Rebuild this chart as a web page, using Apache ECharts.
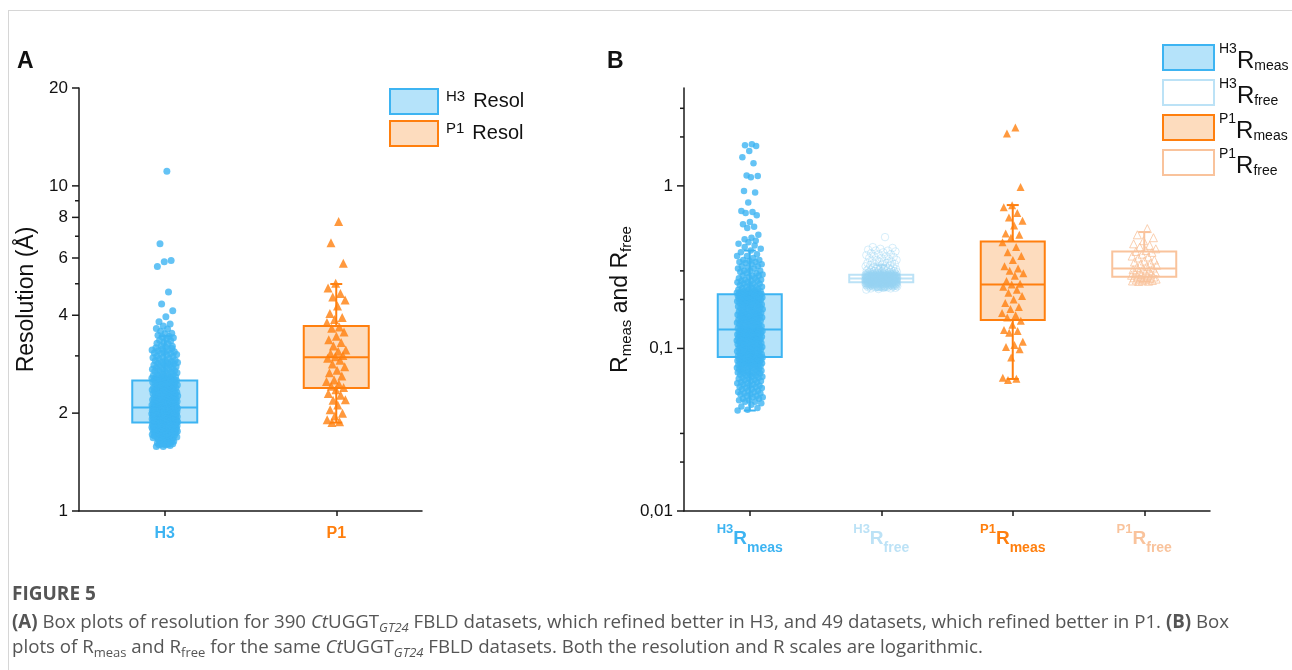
<!DOCTYPE html>
<html>
<head>
<meta charset="utf-8">
<title>Figure 5</title>
<script src="https://cdn.jsdelivr.net/npm/echarts@6/dist/echarts.min.js"></script>
<style>
  html, body { margin: 0; padding: 0; background: #fff; }
  #main { width: 1292px; height: 670px; }
</style>
</head>
<body>
<div id="main"></div>
<script>
// ---- categories ----
const catsA = ['H3', 'P1'];
const catsB = ['H3Rmeas', 'H3Rfree', 'P1Rmeas', 'P1Rfree'];
const supB = ['H3', 'H3', 'P1', 'P1'];
const subB = ['meas', 'free', 'meas', 'free'];
const legendA = ['H3 Resol', 'P1 Resol'];
const legendSupA = ['H3', 'P1'];

// ---- y ticks ----
const ticksA = [1, 2, 4, 6, 8, 10, 20];
const tickLabelsA = ['1', '2', '4', '6', '8', '10', '20'];
const minorA = [3, 5, 7, 9];
const ticksB = [0.01, 0.1, 1];
const tickLabelsB = ['0,01', '0,1', '1'];
const minorB = [0.02, 0.03, 0.2, 0.3, 2, 3];

// ---- box stats: [min, Q1, median, Q3, max] ----
const boxResH3 = [1.58, 1.87, 2.08, 2.52, 3.45];
const boxResP1 = [1.87, 2.39, 2.97, 3.71, 4.99];
const boxRmeasH3 = [0.0415, 0.0886, 0.1306, 0.2156, 0.40];
const boxRfreeH3 = [0.228, 0.2557, 0.269, 0.284, 0.325];
const boxRmeasP1 = [0.0649, 0.1498, 0.247, 0.455, 0.762];
const boxRfreeP1 = [0.258, 0.276, 0.310, 0.395, 0.520];

// ---- points (resolution, Å) ----
const resolH3 = [
  11.1, 6.64, 5.90, 5.84, 5.65, 4.72, 4.33, 4.13, 3.96, 3.82,
  3.76, 3.71, 3.64, 3.63, 3.57, 3.52, 3.51, 3.47, 3.44, 3.43, 3.41,
  3.38, 3.35, 3.34, 3.30, 3.28, 3.27, 3.22, 3.21, 3.19, 3.18, 3.16, 3.15, 3.13, 3.12, 3.11,
  3.09, 3.08, 3.06, 3.05, 3.05, 3.03, 3.02, 2.99, 2.98, 2.97, 2.96, 2.94, 2.93, 2.91, 2.90,
  2.90, 2.88, 2.87, 2.86, 2.85, 2.84, 2.83, 2.82, 2.81, 2.81,
  2.79, 2.78, 2.78, 2.76, 2.75, 2.74, 2.73, 2.73, 2.71, 2.70, 2.69, 2.69, 2.67, 2.66, 2.66,
  2.65, 2.63, 2.63, 2.62, 2.61, 2.60, 2.60, 2.59, 2.58, 2.57, 2.57, 2.56, 2.56, 2.55, 2.55,
  2.54, 2.54, 2.53, 2.53, 2.52, 2.52, 2.52,
  2.51, 2.50, 2.50, 2.49, 2.48, 2.48, 2.47, 2.46, 2.46, 2.45, 2.44, 2.44, 2.43, 2.42, 2.42,
  2.41, 2.40, 2.40, 2.39, 2.39, 2.38, 2.37, 2.37, 2.36, 2.36, 2.35, 2.34, 2.34, 2.34, 2.33,
  2.33, 2.32, 2.32, 2.31, 2.31, 2.31, 2.30, 2.30, 2.29, 2.29, 2.29, 2.28,
  2.27, 2.27, 2.26, 2.26, 2.25, 2.25, 2.24, 2.24, 2.23, 2.23, 2.22, 2.22, 2.21, 2.21, 2.21,
  2.20, 2.20, 2.19, 2.19, 2.19, 2.18, 2.18, 2.17, 2.17, 2.17, 2.16, 2.16, 2.15, 2.15, 2.15,
  2.14, 2.14, 2.14, 2.13, 2.13, 2.13, 2.12, 2.12, 2.12, 2.11, 2.11, 2.11, 2.10, 2.10, 2.10,
  2.10, 2.09, 2.09, 2.09, 2.09, 2.08, 2.08, 2.08, 2.08, 2.08,
  2.07, 2.07, 2.07, 2.07, 2.06, 2.06, 2.06, 2.06, 2.05, 2.05, 2.05, 2.05, 2.05, 2.04, 2.04,
  2.04, 2.04, 2.03, 2.03, 2.03, 2.03, 2.03, 2.02, 2.02, 2.02, 2.02, 2.01, 2.01, 2.01, 2.01,
  2.01, 2.00, 2.00, 2.00, 2.00, 2.00, 2.00, 1.99, 1.99, 1.99, 1.99, 1.98, 1.98, 1.98, 1.98,
  1.98, 1.97, 1.97, 1.97, 1.97, 1.96, 1.96, 1.96, 1.96, 1.96, 1.95, 1.95, 1.95, 1.95, 1.94,
  1.94, 1.94, 1.94, 1.94, 1.93, 1.93, 1.93, 1.93, 1.92, 1.92, 1.92, 1.92, 1.92, 1.91, 1.91,
  1.91, 1.91, 1.90, 1.90, 1.90, 1.90, 1.90, 1.90, 1.89, 1.89, 1.89, 1.89, 1.89, 1.88, 1.88,
  1.88, 1.88, 1.88, 1.88, 1.87, 1.87, 1.87, 1.87,
  1.86, 1.86, 1.86, 1.86, 1.86, 1.85, 1.85, 1.85, 1.85, 1.85, 1.84, 1.84, 1.84, 1.84, 1.84,
  1.83, 1.83, 1.83, 1.83, 1.83, 1.82, 1.82, 1.82, 1.82, 1.82, 1.81, 1.81, 1.81, 1.81,
  1.80, 1.80, 1.80, 1.80, 1.80, 1.79, 1.79, 1.79, 1.79, 1.78, 1.78, 1.78, 1.78,
  1.77, 1.77, 1.77, 1.77, 1.76, 1.76, 1.76, 1.76, 1.75, 1.75, 1.75, 1.75, 1.74, 1.74, 1.74, 1.74,
  1.73, 1.73, 1.73, 1.72, 1.72, 1.72, 1.71, 1.71, 1.71, 1.70, 1.70, 1.70, 1.69, 1.69, 1.69,
  1.68, 1.68, 1.68, 1.67, 1.67, 1.66, 1.66, 1.66, 1.65, 1.65, 1.64, 1.64, 1.64, 1.63, 1.63,
  1.62, 1.62, 1.61, 1.61, 1.60, 1.60, 1.59, 1.58, 1.58
];
const resolP1 = [
  7.77, 6.69, 5.78, 5.02, 4.85, 4.67, 4.55, 4.46, 4.27, 4.05, 3.94, 3.88, 3.80,
  3.68, 3.65, 3.55, 3.45, 3.36, 3.30, 3.22, 3.13, 3.10, 3.05, 3.01, 2.98,
  2.95, 2.91, 2.83, 2.78, 2.71, 2.66, 2.60, 2.53, 2.50, 2.46, 2.42, 2.40,
  2.36, 2.30, 2.27, 2.19, 2.20, 2.12, 2.05, 2.00, 1.96, 1.91, 1.88, 1.87
];

// ---- points (R values) ----
const rmeasH3 = [
  1.80, 1.78, 1.76, 1.64, 1.50, 1.38, 1.16, 1.15, 1.13, 0.93, 0.91, 0.79, 0.70, 0.69, 0.68,
  0.66, 0.60, 0.58, 0.56, 0.55, 0.50, 0.48, 0.47, 0.46, 0.45, 0.44, 0.43, 0.42, 0.41,
  0.40, 0.39, 0.38, 0.37, 0.37, 0.36, 0.35, 0.35, 0.345, 0.34, 0.34, 0.335, 0.33, 0.33, 0.32,
  0.32, 0.315, 0.31, 0.31, 0.30, 0.30, 0.30, 0.295, 0.29, 0.29, 0.285, 0.28, 0.28, 0.28, 0.275,
  0.27, 0.27, 0.265, 0.265, 0.26, 0.26, 0.26, 0.255, 0.255, 0.25, 0.25, 0.25, 0.245, 0.245,
  0.24, 0.24, 0.24, 0.235, 0.235, 0.232, 0.23, 0.23, 0.228, 0.226, 0.225, 0.225, 0.223, 0.222,
  0.221, 0.22, 0.22, 0.219, 0.218, 0.218, 0.217, 0.217, 0.216, 0.216,
  0.215, 0.214, 0.213, 0.213, 0.212, 0.211, 0.21, 0.21, 0.209, 0.208, 0.207, 0.206, 0.206,
  0.205, 0.204, 0.203, 0.202, 0.202, 0.2, 0.2, 0.199, 0.198, 0.197, 0.196, 0.195, 0.195,
  0.194, 0.192, 0.191, 0.19, 0.19, 0.189, 0.188, 0.186, 0.185, 0.185, 0.184, 0.182, 0.181,
  0.18, 0.18, 0.179, 0.178, 0.176, 0.175, 0.175, 0.174, 0.172, 0.171, 0.17, 0.17, 0.169,
  0.168, 0.166, 0.165, 0.165, 0.164, 0.163, 0.162, 0.161, 0.16, 0.16, 0.159, 0.158, 0.157,
  0.156, 0.155, 0.155, 0.154, 0.153, 0.152, 0.151, 0.15, 0.15, 0.149, 0.148, 0.147, 0.146,
  0.145, 0.145, 0.144, 0.143, 0.142, 0.141, 0.14, 0.14, 0.139, 0.138, 0.137, 0.136, 0.135,
  0.135, 0.134, 0.133, 0.132, 0.132, 0.131,
  0.13, 0.13, 0.129, 0.129, 0.128, 0.128, 0.127, 0.127, 0.126, 0.126, 0.125, 0.125, 0.124,
  0.124, 0.123, 0.123, 0.122, 0.122, 0.121, 0.121, 0.12, 0.12, 0.12, 0.119, 0.119, 0.118,
  0.118, 0.117, 0.117, 0.116, 0.116, 0.115, 0.115, 0.114, 0.114, 0.113, 0.113, 0.112, 0.112,
  0.111, 0.111, 0.11, 0.11, 0.11, 0.109, 0.109, 0.108, 0.108, 0.107, 0.107, 0.106, 0.106,
  0.105, 0.105, 0.104, 0.104, 0.103, 0.103, 0.102, 0.102, 0.101, 0.101, 0.1, 0.1, 0.1,
  0.099, 0.099, 0.098, 0.098, 0.097, 0.097, 0.096, 0.096, 0.095, 0.095, 0.094, 0.094, 0.093,
  0.093, 0.093, 0.092, 0.092, 0.091, 0.091, 0.091, 0.09, 0.09, 0.09, 0.089, 0.089, 0.089,
  0.089, 0.088, 0.088, 0.088, 0.087, 0.087, 0.087,
  0.086, 0.086, 0.086, 0.085, 0.085, 0.085, 0.084, 0.084, 0.084, 0.083, 0.083, 0.083, 0.082,
  0.082, 0.082, 0.081, 0.081, 0.081, 0.08, 0.08, 0.08, 0.079, 0.079, 0.079, 0.078, 0.078,
  0.077, 0.077, 0.077, 0.076, 0.076, 0.075, 0.075, 0.075, 0.074, 0.074, 0.073, 0.073, 0.072,
  0.072, 0.072, 0.071, 0.071, 0.07, 0.07, 0.07, 0.069, 0.069, 0.068, 0.068, 0.067, 0.067,
  0.066, 0.066, 0.065, 0.065, 0.064, 0.064, 0.063, 0.063, 0.062, 0.062, 0.061, 0.061, 0.06,
  0.06, 0.059, 0.059, 0.058, 0.058, 0.057, 0.057, 0.056, 0.056, 0.055, 0.055, 0.054, 0.054,
  0.053, 0.053, 0.052, 0.052, 0.051, 0.051, 0.05, 0.05, 0.049, 0.049, 0.048, 0.048, 0.047,
  0.047, 0.046, 0.045, 0.044, 0.043, 0.042, 0.0415
];
const rfreeH3 = [
  0.484, 0.42, 0.415, 0.41, 0.405, 0.40, 0.40, 0.395, 0.39, 0.385, 0.38, 0.38, 0.375, 0.37,
  0.37, 0.365, 0.36, 0.36, 0.355, 0.35, 0.35, 0.345, 0.345, 0.34, 0.34, 0.335, 0.335, 0.33,
  0.33, 0.33, 0.325, 0.325, 0.32, 0.32, 0.32, 0.316, 0.315, 0.313, 0.31, 0.31, 0.31, 0.308,
  0.306, 0.305, 0.304, 0.302, 0.301, 0.30, 0.30, 0.299, 0.298, 0.297, 0.296, 0.295, 0.295,
  0.294, 0.293, 0.292, 0.292, 0.291, 0.29, 0.29, 0.29, 0.289, 0.289, 0.288, 0.288, 0.287,
  0.287, 0.287, 0.286, 0.286, 0.286, 0.285, 0.285, 0.285, 0.285, 0.284, 0.284, 0.284, 0.284,
  0.283, 0.283, 0.283, 0.283, 0.282, 0.282, 0.282, 0.282, 0.281, 0.281, 0.281, 0.281, 0.28, 0.28,
  0.28, 0.28, 0.28, 0.28, 0.28, 0.28, 0.28, 0.28, 0.279, 0.279, 0.279, 0.279, 0.279, 0.279,
  0.279, 0.279, 0.278, 0.278, 0.278, 0.278, 0.278, 0.278, 0.278, 0.278, 0.277, 0.277, 0.277,
  0.277, 0.277, 0.277, 0.277, 0.277, 0.276, 0.276, 0.276, 0.276, 0.276, 0.276, 0.276, 0.276,
  0.275, 0.275, 0.275, 0.275, 0.275, 0.275, 0.275, 0.275, 0.274, 0.274, 0.274, 0.274, 0.274,
  0.274, 0.274, 0.274, 0.273, 0.273, 0.273, 0.273, 0.273, 0.273, 0.273, 0.273, 0.272, 0.272,
  0.272, 0.272, 0.272, 0.272, 0.272, 0.272, 0.271, 0.271, 0.271, 0.271, 0.271, 0.271, 0.271,
  0.271, 0.27, 0.27, 0.27, 0.27, 0.27, 0.27, 0.27, 0.27, 0.27, 0.269, 0.269, 0.269, 0.269,
  0.269, 0.269, 0.269, 0.269, 0.269, 0.268, 0.268, 0.268, 0.268, 0.268, 0.268, 0.268, 0.268,
  0.267, 0.267, 0.267, 0.267, 0.267, 0.267, 0.267, 0.267, 0.266, 0.266, 0.266, 0.266, 0.266,
  0.266, 0.266, 0.266, 0.265, 0.265, 0.265, 0.265, 0.265, 0.265, 0.265, 0.265, 0.264, 0.264,
  0.264, 0.264, 0.264, 0.264, 0.264, 0.264, 0.263, 0.263, 0.263, 0.263, 0.263, 0.263, 0.263,
  0.263, 0.262, 0.262, 0.262, 0.262, 0.262, 0.262, 0.262, 0.261, 0.261, 0.261, 0.261, 0.261,
  0.261, 0.261, 0.26, 0.26, 0.26, 0.26, 0.26, 0.26, 0.26, 0.259, 0.259, 0.259, 0.259, 0.259,
  0.259, 0.259, 0.258, 0.258, 0.258, 0.258, 0.258, 0.258, 0.258, 0.257, 0.257, 0.257, 0.257,
  0.257, 0.257, 0.257, 0.256, 0.256, 0.256, 0.256, 0.256, 0.256, 0.256,
  0.255, 0.255, 0.255, 0.255, 0.255, 0.255, 0.255, 0.255, 0.254, 0.254, 0.254, 0.254, 0.254,
  0.254, 0.254, 0.254, 0.253, 0.253, 0.253, 0.253, 0.253, 0.253, 0.253, 0.253, 0.252, 0.252,
  0.252, 0.252, 0.252, 0.252, 0.252, 0.252, 0.251, 0.251, 0.251, 0.251, 0.251, 0.251, 0.25,
  0.25, 0.25, 0.25, 0.25, 0.25, 0.25, 0.25, 0.249, 0.249, 0.249, 0.249, 0.249, 0.249, 0.248,
  0.248, 0.248, 0.248, 0.248, 0.248, 0.247, 0.247, 0.247, 0.247, 0.247, 0.246, 0.246, 0.246,
  0.246, 0.246, 0.245, 0.245, 0.245, 0.245, 0.245, 0.244, 0.244, 0.244, 0.244, 0.243, 0.243,
  0.243, 0.243, 0.242, 0.242, 0.242, 0.242, 0.241, 0.241, 0.241, 0.24, 0.24, 0.24, 0.238,
  0.238, 0.238, 0.236, 0.236, 0.234, 0.234, 0.232, 0.23
];
const rmeasP1 = [
  2.29, 2.10, 0.985, 0.76, 0.74, 0.68, 0.64, 0.61, 0.57, 0.51, 0.50, 0.48,
  0.45, 0.42, 0.39, 0.37, 0.35, 0.32, 0.31, 0.30, 0.29, 0.28, 0.26, 0.25,
  0.247, 0.24, 0.23, 0.22, 0.21, 0.20, 0.19, 0.18, 0.175, 0.165, 0.16, 0.155,
  0.148, 0.14, 0.13, 0.128, 0.125, 0.11, 0.105, 0.102, 0.099, 0.088, 0.066, 0.065, 0.064
];
const rfreeP1 = [
  0.546, 0.50, 0.48, 0.46, 0.44, 0.43, 0.42, 0.41, 0.40, 0.395, 0.39, 0.38,
  0.37, 0.365, 0.36, 0.35, 0.345, 0.34, 0.335, 0.33, 0.325, 0.32, 0.315, 0.312,
  0.308, 0.305, 0.30, 0.298, 0.295, 0.292, 0.29, 0.287, 0.285, 0.282, 0.28, 0.278,
  0.275, 0.273, 0.272, 0.27, 0.268, 0.267, 0.265, 0.264, 0.262, 0.261, 0.26, 0.259, 0.258
];

// ---- colours ----
const BLUE = '#3db4f2';
const BLUE_FILL = '#b5e3fa';
const BLUE_LIGHT = '#bce2f6';
const BLUE_PT = 'rgba(150,210,242,0.6)';
const ORANGE = '#ff7f0e';
const ORANGE_FILL = '#fddcbe';
const ORANGE_LIGHT = '#f9c39c';
const AXIS = '#1a1a1a';
const FONT = 'Arial';
const CAP_FONT = 'Open Sans';

const chart = echarts.init(document.getElementById('main'), null, { renderer: 'canvas' });

// box + whiskers, drawn through the axis scale
function boxSeries(name, g, cat, stats, fill, stroke, halfW) {
  return {
    name: name, type: 'custom', xAxisIndex: g, yAxisIndex: g, z: 2,
    itemStyle: { color: fill, borderColor: stroke, borderWidth: 2 },
    encode: { x: 0, y: [1, 2, 3, 4, 5] },
    data: [[cat].concat(stats)],
    renderItem: function (params, api) {
      const c = api.value(0);
      const p = [1, 2, 3, 4, 5].map(function (d) { return api.coord([c, api.value(d)]); });
      const x = p[0][0];
      const ln = function (x1, y1, x2, y2) {
        return { type: 'line', shape: { x1: x1, y1: y1, x2: x2, y2: y2 }, style: { stroke: stroke, lineWidth: 2 } };
      };
      return {
        type: 'group',
        children: [
          ln(x, p[4][1], x, p[3][1]),
          ln(x, p[1][1], x, p[0][1]),
          ln(x - 6, p[4][1], x + 6, p[4][1]),
          ln(x - 6, p[0][1], x + 6, p[0][1]),
          { type: 'rect', shape: { x: x - halfW, y: p[3][1], width: 2 * halfW, height: p[1][1] - p[3][1] },
            style: { fill: fill, stroke: stroke, lineWidth: 2 } },
          ln(x - halfW, p[2][1], x + halfW, p[2][1])
        ]
      };
    }
  };
}

// jittered points
function pointSeries(name, g, cat, values, symbol, size, style, amp) {
  return {
    name: name, type: 'scatter', xAxisIndex: g, yAxisIndex: g, z: 3,
    symbol: symbol, symbolSize: size, itemStyle: style,
    data: values.map(function (v, i) {
      const dx = (((i + 1) * 0.6180339) % 1 - 0.5) * 2 * amp(v);
      return { value: [cat, v], symbolOffset: [dx, 0] };
    })
  };
}

// y ticks and labels on the log axes
function tickSeries(g, values, labels, len) {
  return {
    type: 'custom', xAxisIndex: g, yAxisIndex: g, silent: true, z: 5, clip: false,
    encode: { x: 0, y: 1 },
    data: values.map(function (v) { return [0, v]; }),
    renderItem: function (params, api) {
      const y = api.coord([0, api.value(1)])[1];
      const x0 = params.coordSys.x;
      const kids = [{ type: 'line', shape: { x1: x0 - len, y1: y, x2: x0, y2: y }, style: { stroke: AXIS, lineWidth: 1.5 } }];
      if (labels) {
        kids.push({ type: 'text', x: x0 - len - 4, y: y,
          style: { text: labels[params.dataIndex], align: 'right', verticalAlign: 'middle',
                   fontSize: 17, fontFamily: FONT, fill: '#111' } });
      }
      return { type: 'group', children: kids };
    }
  };
}

const colorsB = [BLUE, BLUE_LIGHT, ORANGE, ORANGE_LIGHT];
const richXB = {};
colorsB.forEach(function (c, i) {
  richXB['p' + i] = { fontSize: 13, fontWeight: 'bold', fontFamily: FONT, color: c, verticalAlign: 'top', lineHeight: 14 };
  richXB['r' + i] = { fontSize: 19, fontWeight: 'bold', fontFamily: FONT, color: c, lineHeight: 32 };
  richXB['s' + i] = { fontSize: 14, fontWeight: 'bold', fontFamily: FONT, color: c, verticalAlign: 'bottom', lineHeight: 16 };
});

const option = {
  animation: false,
  backgroundColor: '#fff',
  grid: [
    { left: 79, top: 88, width: 343, height: 423 },
    { left: 684, top: 88, width: 526, height: 423 }
  ],
  xAxis: [
    {
      gridIndex: 0, type: 'category', data: catsA,
      axisLine: { lineStyle: { color: AXIS, width: 1.5 } },
      axisTick: { show: true, alignWithLabel: true, length: 5, lineStyle: { color: AXIS, width: 1.5 } },
      axisLabel: {
        margin: 15, interval: 0,
        formatter: function (v, i) { return '{c' + i + '|' + v + '}'; },
        rich: {
          c0: { fontSize: 16, fontWeight: 'bold', fontFamily: FONT, color: BLUE },
          c1: { fontSize: 16, fontWeight: 'bold', fontFamily: FONT, color: ORANGE }
        }
      },
      splitLine: { show: false }
    },
    {
      gridIndex: 1, type: 'category', data: catsB,
      axisLine: { lineStyle: { color: AXIS, width: 1.5 } },
      axisTick: { show: true, alignWithLabel: true, interval: 0, length: 5, lineStyle: { color: AXIS, width: 1.5 } },
      axisLabel: {
        margin: 12, interval: 0,
        formatter: function (v, i) { return '{p' + i + '|' + supB[i] + '}{r' + i + '|R}{s' + i + '|' + subB[i] + '}'; },
        rich: richXB
      },
      splitLine: { show: false }
    }
  ],
  yAxis: [
    {
      gridIndex: 0, type: 'log', logBase: 10, min: 1, max: 20,
      name: 'Resolution (Å)', nameLocation: 'middle', nameGap: 41,
      nameTextStyle: { fontSize: 23, fontFamily: FONT, color: '#111' },
      axisLine: { show: true, lineStyle: { color: AXIS, width: 1.5 } },
      axisTick: { show: false }, axisLabel: { show: false }, splitLine: { show: false }
    },
    {
      gridIndex: 1, type: 'log', logBase: 10, min: 0.01, max: 4,
      name: '{r|R}{s|meas}{r| and R}{s|free}', nameLocation: 'middle', nameGap: 50,
      nameTextStyle: {
        rich: {
          r: { fontSize: 23, fontFamily: FONT, color: '#111', lineHeight: 26 },
          s: { fontSize: 15, fontFamily: FONT, color: '#111', verticalAlign: 'bottom', lineHeight: 16 }
        }
      },
      axisLine: { show: true, lineStyle: { color: AXIS, width: 1.5 } },
      axisTick: { show: false }, axisLabel: { show: false }, splitLine: { show: false }
    }
  ],
  legend: [
    {
      left: 384, top: 83, orient: 'vertical', itemWidth: 48, itemHeight: 25, itemGap: 5,
      selectedMode: false, icon: 'rect',
      data: [
        { name: legendA[0], itemStyle: { color: BLUE_FILL, borderColor: BLUE, borderWidth: 2 } },
        { name: legendA[1], itemStyle: { color: ORANGE_FILL, borderColor: ORANGE, borderWidth: 2 } }
      ],
      formatter: function (name) {
        return '{sup|' + legendSupA[legendA.indexOf(name)] + '}{t|Resol}';
      },
      textStyle: {
        rich: {
          sup: { fontSize: 15, fontFamily: FONT, color: '#111', verticalAlign: 'top', lineHeight: 16, padding: [0, 8, 0, 3] },
          t: { fontSize: 20, fontFamily: FONT, color: '#111', lineHeight: 25 }
        }
      }
    },
    {
      left: 1157, top: 37, orient: 'vertical', itemWidth: 51, itemHeight: 25, itemGap: 4,
      selectedMode: false, icon: 'rect',
      data: [
        { name: catsB[0], itemStyle: { color: BLUE_FILL, borderColor: BLUE, borderWidth: 2 } },
        { name: catsB[1], itemStyle: { color: '#fff', borderColor: BLUE_LIGHT, borderWidth: 2 } },
        { name: catsB[2], itemStyle: { color: ORANGE_FILL, borderColor: ORANGE, borderWidth: 2 } },
        { name: catsB[3], itemStyle: { color: '#fff', borderColor: ORANGE_LIGHT, borderWidth: 2 } }
      ],
      formatter: function (name) {
        const i = catsB.indexOf(name);
        return '{sup|' + supB[i] + '}{r|R}{sub|' + subB[i] + '}{x| }';
      },
      textStyle: {
        rich: {
          sup: { fontSize: 14, fontFamily: FONT, color: '#111', verticalAlign: 'top', lineHeight: 14 },
          r: { fontSize: 24, fontFamily: FONT, color: '#111', verticalAlign: 'bottom', lineHeight: 25 },
          sub: { fontSize: 14, fontFamily: FONT, color: '#111', verticalAlign: 'bottom', lineHeight: 14 },
          x: { fontSize: 4, fontFamily: FONT, color: '#111', lineHeight: 31 }
        }
      }
    }
  ],
  graphic: [
    { type: 'line', shape: { x1: 8, y1: 10.5, x2: 1292, y2: 10.5 }, style: { stroke: '#d6d6d6', lineWidth: 1 } },
    { type: 'line', shape: { x1: 8.5, y1: 10, x2: 8.5, y2: 670 }, style: { stroke: '#d6d6d6', lineWidth: 1 } },
    { type: 'text', left: 17, top: 50, style: { text: 'A', fontSize: 23, fontWeight: 'bold', fontFamily: FONT, fill: '#111' } },
    { type: 'text', left: 607, top: 50, style: { text: 'B', fontSize: 23, fontWeight: 'bold', fontFamily: FONT, fill: '#111' } },
    { type: 'text', left: 12, top: 585, style: { text: 'FIGURE 5', fontSize: 19, fontWeight: 'bold', fontFamily: CAP_FONT, fill: '#555' } },
    {
      type: 'text', left: 12, top: 610,
      style: {
        text: '{b|(A)} Box plots of resolution for 390 {i|Ct}UGGT{si|GT24} FBLD datasets, which refined better in H3, and 49 datasets, which refined better in P1. {b|(B)} Box\n' +
              'plots of R{s|meas} and R{s|free} for the same {i|Ct}UGGT{si|GT24} FBLD datasets. Both the resolution and R scales are logarithmic.',
        fontSize: 18.7, fontFamily: CAP_FONT, fill: '#555', lineHeight: 25,
        rich: {
          b: { fontSize: 18.7, fontFamily: CAP_FONT, fontWeight: 'bold', fill: '#555', lineHeight: 25 },
          i: { fontSize: 18.7, fontFamily: CAP_FONT, fontStyle: 'italic', fill: '#555', lineHeight: 25 },
          s: { fontSize: 13, fontFamily: CAP_FONT, fill: '#555', verticalAlign: 'bottom', lineHeight: 19 },
          si: { fontSize: 13, fontFamily: CAP_FONT, fontStyle: 'italic', fill: '#555', verticalAlign: 'bottom', lineHeight: 19 }
        }
      }
    }
  ],
  series: [
    boxSeries(legendA[0], 0, 0, boxResH3, BLUE_FILL, BLUE, 32.5),
    boxSeries(legendA[1], 0, 1, boxResP1, ORANGE_FILL, ORANGE, 32.5),
    boxSeries(catsB[0], 1, 0, boxRmeasH3, BLUE_FILL, BLUE, 32),
    boxSeries(catsB[1], 1, 1, boxRfreeH3, '#fff', BLUE_LIGHT, 32),
    boxSeries(catsB[2], 1, 2, boxRmeasP1, ORANGE_FILL, ORANGE, 32),
    boxSeries(catsB[3], 1, 3, boxRfreeP1, '#fff', ORANGE_LIGHT, 32),

    pointSeries('H3 resolution', 0, 0, resolH3, 'circle', 7, { color: BLUE },
      function (v) { return v < 1.68 ? 9 : (v <= 3.2 ? 13 : 9); }),
    pointSeries('P1 resolution', 0, 1, resolP1, 'triangle', 9, { color: ORANGE },
      function () { return 10; }),
    pointSeries('H3 Rmeas pts', 1, 0, rmeasH3, 'circle', 6.5, { color: BLUE },
      function (v) { return v > 0.45 ? 9 : 13; }),
    pointSeries('H3 Rfree pts', 1, 1, rfreeH3, 'circle', 7.5, { color: 'rgba(255,255,255,0)', borderColor: BLUE_PT, borderWidth: 0.8 },
      function () { return 16; }),
    pointSeries('P1 Rmeas pts', 1, 2, rmeasP1, 'triangle', 8, { color: ORANGE },
      function () { return 11; }),
    pointSeries('P1 Rfree pts', 1, 3, rfreeP1, 'triangle', 8, { color: 'rgba(255,255,255,0)', borderColor: ORANGE_LIGHT, borderWidth: 1 },
      function () { return 13; }),

    tickSeries(0, ticksA, tickLabelsA, 7),
    tickSeries(0, minorA, null, 4),
    tickSeries(1, ticksB, tickLabelsB, 7),
    tickSeries(1, minorB, null, 4)
  ]
};

chart.setOption(option);
</script>
</body>
</html>
